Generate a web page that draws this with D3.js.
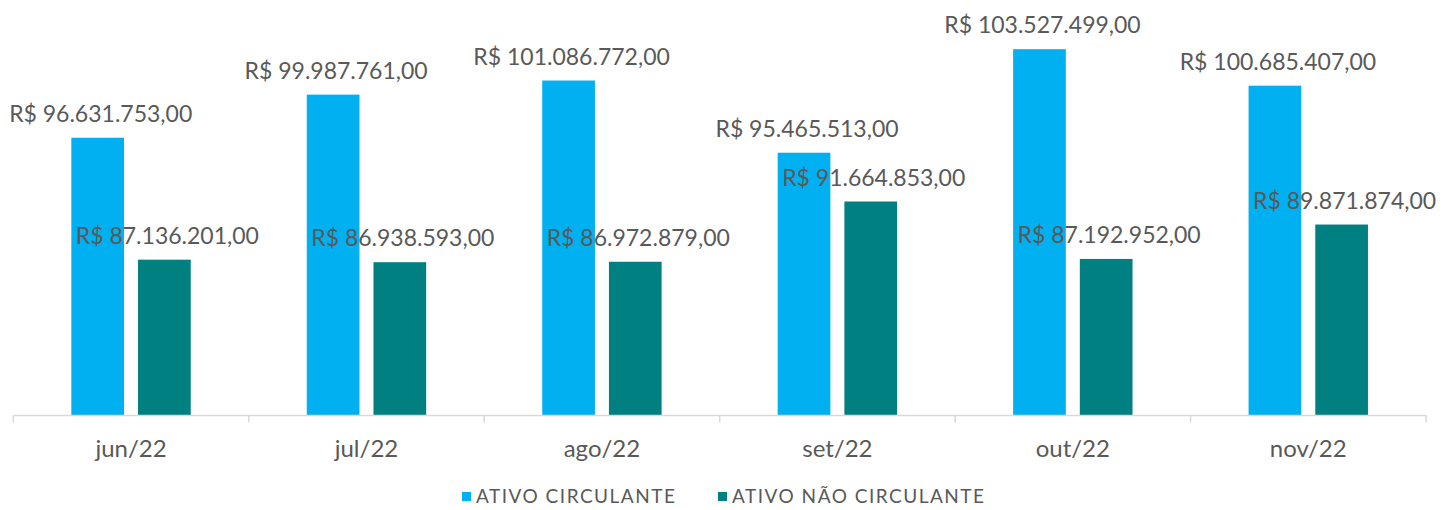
<!DOCTYPE html>
<html>
<head>
    <meta charset="utf-8">
    <title>Ativo Circulante x Não Circulante</title>
    <script src="https://d3js.org/d3.v7.min.js"></script>
    <style>
        body { margin: 0; background: #fff; }
        text { font-family: "Century Gothic", Lato, "DejaVu Sans", sans-serif; fill: #595959; }
    </style>
</head>
<body>
    <div id="chart"></div>

    <script>
        // data
        const months = ['jun/22', 'jul/22', 'ago/22', 'set/22', 'out/22', 'nov/22'];
        const seriesNames = ['ATIVO CIRCULANTE', 'ATIVO NÃO CIRCULANTE'];
        const circulante = [96631753, 99987761, 101086772, 95465513, 103527499, 100685407];
        const naoCirculante = [87136201, 86938593, 86972879, 91664853, 87192952, 89871874];
        const colors = ['#00B0F0', '#008080'];

        const width = 1455;
        const height = 510;
        const baseY = 415.5;

        const svg = d3.select('#chart')
            .append('svg')
            .attr('width', width)
            .attr('height', height);

        svg.append('rect')
            .attr('width', width)
            .attr('height', height)
            .attr('fill', '#fff');

        const x = d3.scaleBand()
            .domain(months)
            .range([13.3, 1426])
            .padding(0);

        const x1 = d3.scaleBand()
            .domain(seriesNames)
            .range([0, x.bandwidth()])
            .paddingInner(0.21)
            .paddingOuter(0.87);

        const y = d3.scaleLinear()
            .domain([75000000, 107000000])
            .range([baseY, 4.6]);

        const rows = months.map((m, i) => ({
            month: m,
            values: [
                { name: seriesNames[0], value: circulante[i], color: colors[0] },
                { name: seriesNames[1], value: naoCirculante[i], color: colors[1] }
            ]
        }));

        const fmt = v => 'R$ ' + d3.format(',.2f')(v).replace(/,/g, '#').replace('.', ',').replace(/#/g, '.');

        const groups = svg.selectAll('g.month')
            .data(rows)
            .enter()
            .append('g')
            .attr('class', 'month')
            .attr('transform', d => `translate(${x(d.month)},0)`);

        groups.selectAll('rect')
            .data(d => d.values)
            .enter()
            .append('rect')
            .attr('x', d => x1(d.name))
            .attr('y', d => y(d.value))
            .attr('width', x1.bandwidth())
            .attr('height', d => baseY - y(d.value))
            .attr('fill', d => d.color);

        groups.selectAll('text.val')
            .data(d => d.values)
            .enter()
            .append('text')
            .attr('class', 'val')
            .attr('x', d => x1(d.name) + x1.bandwidth() / 2 + 3)
            .attr('y', d => y(d.value) - 16)
            .attr('text-anchor', 'middle')
            .style('font-size', '23px')
            .text(d => fmt(d.value));

        // category axis
        const axis = svg.append('g')
            .attr('transform', `translate(0,${baseY})`)
            .call(d3.axisBottom(x).tickSize(0).tickPadding(24));
        axis.select('.domain')
            .attr('stroke', '#d9d9d9')
            .attr('stroke-width', 1.5)
            .attr('d', `M${x.range()[0]},0H${x.range()[1]}`);
        axis.selectAll('.tick text')
            .style('font-size', '24px')
            .attr('fill', '#595959');

        // tick marks between categories
        const bounds = months.map(m => x(m)).concat([x.range()[1]]);
        axis.selectAll('line.sep')
            .data(bounds)
            .enter()
            .append('line')
            .attr('class', 'sep')
            .attr('x1', d => d)
            .attr('x2', d => d)
            .attr('y1', 0)
            .attr('y2', 7)
            .attr('stroke', '#d9d9d9')
            .attr('stroke-width', 1.5);

        // legend
        const legendX = [462, 718];
        const legend = svg.selectAll('g.legend')
            .data(seriesNames)
            .enter()
            .append('g')
            .attr('class', 'legend')
            .attr('transform', (d, i) => `translate(${legendX[i]},492)`);

        legend.append('rect')
            .attr('width', 9)
            .attr('height', 9)
            .attr('fill', (d, i) => colors[i]);

        legend.append('text')
            .attr('x', 14)
            .attr('y', 11)
            .style('font-size', '19px')
            .style('letter-spacing', '1.5px')
            .text(d => d);
    </script>
</body>
</html>
